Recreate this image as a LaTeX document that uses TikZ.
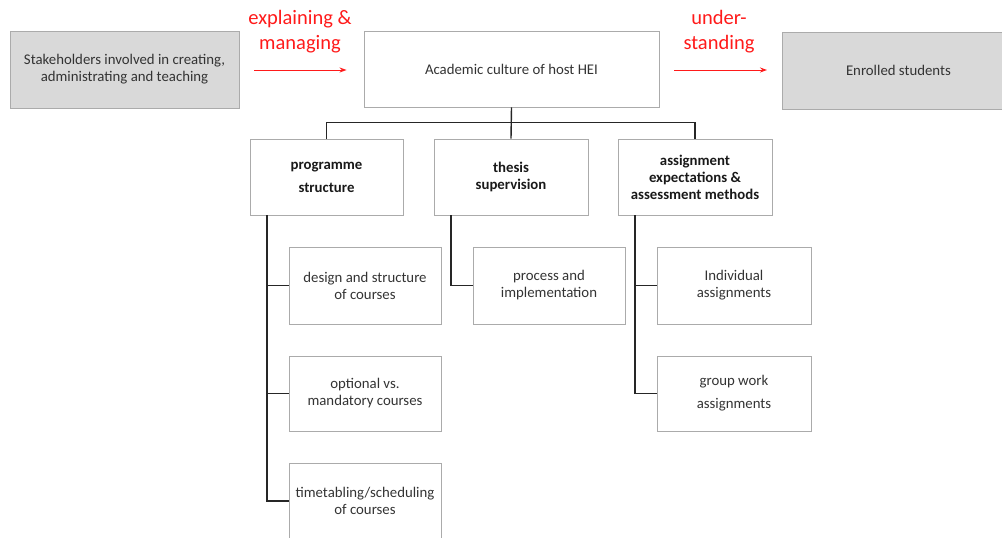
\documentclass[tikz,border=0pt]{standalone}
\usepackage{fontspec}
\setmainfont{Carlito}
\usetikzlibrary{arrows.meta}
\definecolor{txt}{HTML}{333333}
\definecolor{boxline}{HTML}{ABABAB}
\definecolor{boxfill}{HTML}{D9D9D9}
\definecolor{redtxt}{HTML}{FF1A1A}
\tikzset{
  box/.style={draw=boxline, line width=0.9pt, inner sep=0pt, align=center, text=txt,
    font=\fontsize{14.8}{17}\selectfont},
  graybox/.style={box, fill=boxfill},
  head/.style={box, font=\fontsize{14.8}{17}\selectfont\bfseries, text=black!90},
  conn/.style={draw=black!85, line width=1.4pt},
  redarrow/.style={draw=redtxt, line width=1pt, -{Stealth[length=7pt,width=5pt]}},
  redlabel/.style={text=redtxt, align=center, inner sep=0pt, font=\fontsize{20.5}{25}\selectfont}
}
\begin{document}
\begin{tikzpicture}[x=1pt,y=-1pt]
\useasboundingbox (0,0) rectangle (1002,538);
% top row
\node[graybox, minimum width=229, minimum height=77] (stake) at (124.5,69.5)
  {Stakeholders involved in creating,\\administrating and teaching};
\node[box, minimum width=295, minimum height=76] (acad) at (511.5,69)
  {Academic culture of host HEI};
\node[graybox, minimum width=224, minimum height=77, anchor=west] (enrol) at (782,70.5)
  {\hspace*{8pt}Enrolled students};
% red arrows and labels
\draw[redarrow] ([xshift=15]stake.east |- 0,70) -- ([xshift=-17]acad.west |- 0,70);
\draw[redarrow] ([xshift=15]acad.east |- 0,70) -- ([xshift=-15]enrol.west |- 0,70);
\node[redlabel] (lab1) at (300,31.5) {explaining \&\\managing};
\node[redlabel] (lab2) at (719,31.5) {under-\\standing};
% second level
\node[head, minimum width=153, minimum height=76, font=\fontsize{14.8}{23}\selectfont\bfseries] (prog) at (326.5,177)
  {programme\\structure};
\node[head, minimum width=154, minimum height=76] (thesis) at (511,177)
  {thesis\\supervision};
\node[head, minimum width=154, minimum height=76] (assign) at (695,177)
  {assignment\\expectations \&\\assessment methods};
% connectors level 1
\draw[conn] (acad.south) -- (thesis.north);
\draw[conn] (prog.north) -- ++(0,-16) -| (assign.north);
% programme children
\node[box, minimum width=152, minimum height=77] (c1) at (365,285.5) {design and structure\\of courses};
\node[box, minimum width=152, minimum height=75] (c2) at (365,393.5) {optional vs.\\mandatory courses};
\node[box, minimum width=152, minimum height=90, anchor=north] (c3) at (365,463) {};
\node[box, draw=none, fill=none] (c3t) at (365,501) {timetabling/scheduling\\of courses};
\coordinate (pv) at (267,215);
\draw[conn] (pv) |- (c3.west |- c3t.center);
\draw[conn] (c1.west) -- (c1.west -| pv);
\draw[conn] (c2.west) -- (c2.west -| pv);
% thesis child
\node[box, minimum width=152, minimum height=77] (t1) at (549,285.5) {process and\\implementation};
\coordinate (tv) at (451,215);
\draw[conn] (tv) |- (t1.west);
% assignment children
\node[box, minimum width=154, minimum height=77] (a1) at (734,285.5) {Individual\\assignments};
\node[box, minimum width=154, minimum height=75, font=\fontsize{14.8}{23}\selectfont] (a2) at (734,393.5) {group work\\assignments};
\coordinate (av) at (635,215);
\draw[conn] (av) |- (a2.west);
\draw[conn] (a1.west) -- (a1.west -| av);
\end{tikzpicture}
\end{document}
